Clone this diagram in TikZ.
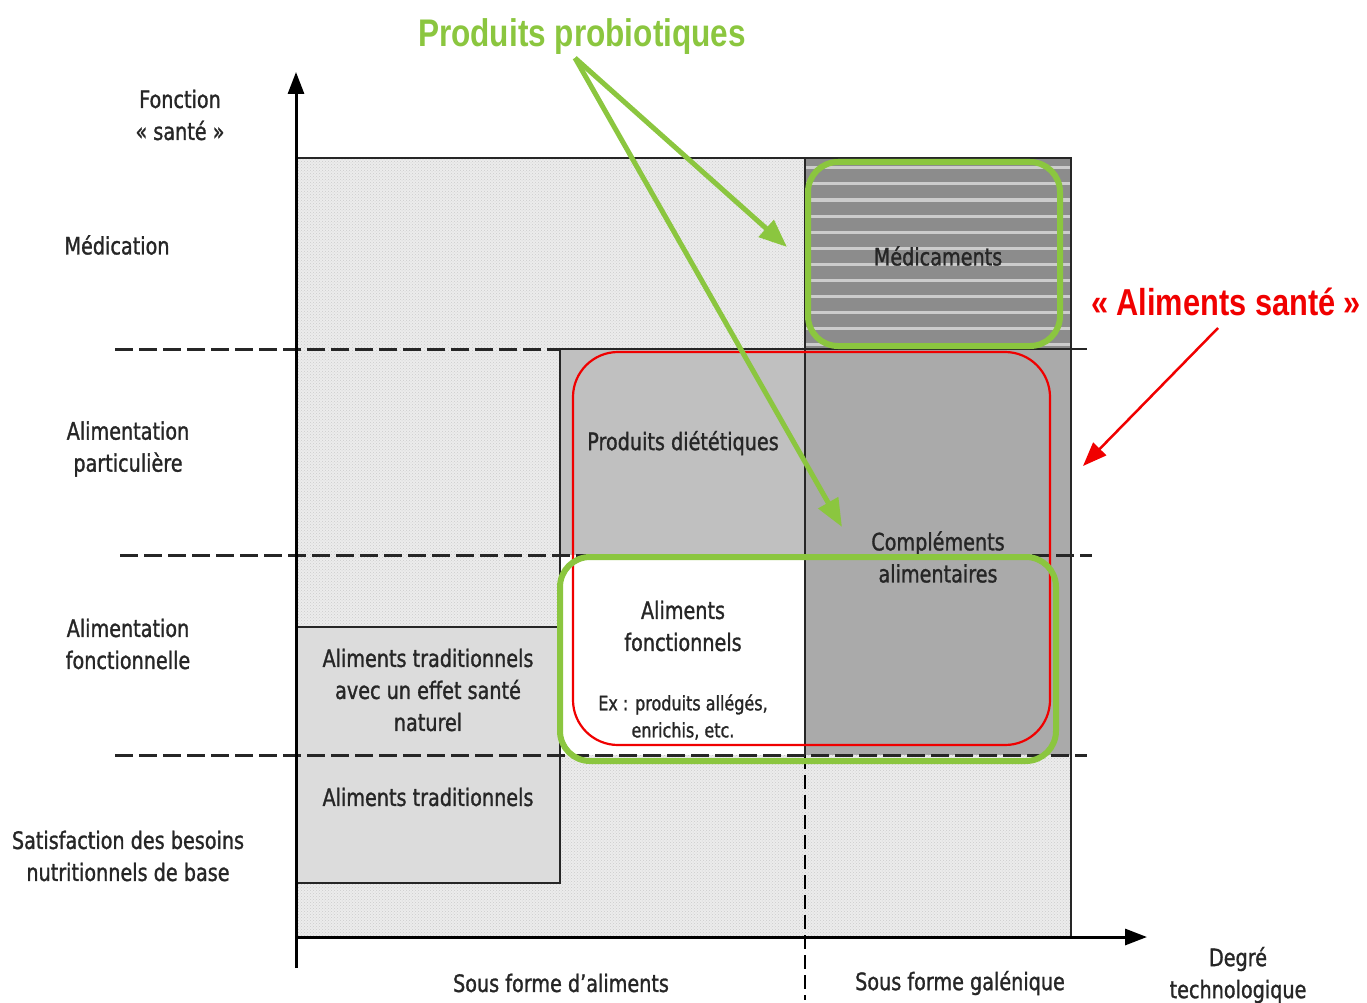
\documentclass[tikz,border=0pt]{standalone}
\usepackage{fontspec}
\setmainfont{DejaVu Sans}[FakeStretch=0.8,FakeBold=1.2]
\newfontfamily\titlefont{Liberation Sans}[FakeStretch=0.82]
\usetikzlibrary{arrows.meta,patterns}
\definecolor{pgreen}{RGB}{139,198,63}
\definecolor{ared}{RGB}{240,0,0}
\definecolor{stip}{RGB}{236,236,236}
\definecolor{lgray}{RGB}{220,220,220}
\definecolor{mgray}{RGB}{192,192,192}
\definecolor{dgray}{RGB}{170,170,170}
\definecolor{sgray}{RGB}{140,140,140}
\begin{document}
\begin{tikzpicture}[x=1pt,y=-1pt,
  lbl/.style={font=\fontsize{24}{32}\selectfont, align=center, inner sep=0pt, text=black!85},
  small/.style={font=\fontsize{20}{27}\selectfont, align=center, inner sep=0pt, text=black!85},
  dashline/.style={line width=3pt, dash pattern=on 18pt off 6pt, black!85},
  edge/.style={line width=2.4pt, black!85},
  axis/.style={line width=3pt, black, -{Triangle[length=22pt,width=16pt]}},
  greenbox/.style={draw=pgreen, line width=6pt, rounded corners=30pt},
  redbox/.style={draw=ared, line width=2.2pt, rounded corners=45pt},
  greenarrow/.style={draw=pgreen, line width=5pt, -{Triangle[length=28pt,width=22pt]}},
  redarrow/.style={draw=ared, line width=2.5pt, -{Triangle[length=24pt,width=18pt]}}]
\useasboundingbox (0,0) rectangle (1367,1003);
% background stipple regions
\fill[stip] (296,158) rectangle (1071,937);
\fill[pattern=crosshatch dots, pattern color=gray!40] (296,158) rectangle (1071,937);
% medicaments stripes
\fill[sgray] (805,158) rectangle (1071,349);
\foreach \yy in {168,184,...,344} \draw[gray!40, line width=3pt] (805,\yy) -- (1071,\yy);
% gray block
\fill[mgray] (560,349) rectangle (805,555);
\fill[dgray] (805,349) rectangle (1071,755);
\fill[white] (560,555) rectangle (805,755);
% traditional boxes
\fill[lgray] (296,627) rectangle (560,883);
\draw[edge] (296,627) -- (560,627) -- (560,883) -- (296,883);
% edges
\draw[edge] (296,158) -- (1071,158) -- (1071,937);
\draw[edge] (560,349) -- (1087,349);
\draw[edge] (560,349) -- (560,755);
\draw[edge] (805,158) -- (805,755);
\draw[line width=1.8pt, dash pattern=on 14pt off 6pt] (805,755) -- (805,1000);
% dashed lines
\draw[dashline] (115,349) -- (560,349);
\draw[dashline] (120,555) -- (1092,555);
\draw[dashline] (115,755) -- (1087,755);
% axes
\coordinate (O) at (296,937);
\coordinate (Ybot) at (296,968);
\coordinate (Ytip) at (296,72);
\coordinate (Xtip) at (1147,937);
\draw[axis] (Ybot) -- (Ytip);
\draw[axis] (O) -- (Xtip);
% left labels
\node[lbl] (fonc) at (180,115) {Fonction\\« santé »};
\node[lbl] (medic) at (117,245) {Médication};
\node[lbl] (alpart) at (128,449) {Alimentation\\particulière};
\node[lbl] (alfonc) at (128,644) {Alimentation\\fonctionnelle};
\node[lbl] (satis) at (128,856) {Satisfaction des besoins\\nutritionnels de base};
% bottom labels
\node[lbl] (sfa) at (561,983) {Sous forme d’aliments};
\node[lbl] (sfg) at (960,983) {Sous forme galénique};
\node[lbl] (degre) at (1238,975) {Degré\\technologique};
% inner labels
\node[lbl] (medts) at (938,256) {Médicaments};
\node[lbl] (prodiet) at (683,443) {Produits diététiques};
\node[lbl] (compl) at (938,557) {Compléments\\alimentaires};
\node[lbl] (alfn) at (683,626) {Aliments\\fonctionnels};
\node[small] (ex) at (683,717) {Ex : produits allégés,\\enrichis, etc.};
\node[lbl] (atre) at (428,690) {Aliments traditionnels\\avec un effet santé\\naturel};
\node[lbl] (atr) at (428,797) {Aliments traditionnels};
% red and green frames
\draw[redbox] (573,352) rectangle (1050,745);
\draw[greenbox] (808,162) rectangle (1060,346);
\draw[greenbox] (560,557) rectangle (1056,761);
% titles
\node[font=\titlefont\bfseries\fontsize{38.5}{40}\selectfont, text=pgreen, inner sep=0pt] (probio) at (582,37) {Produits probiotiques};
\node[font=\titlefont\bfseries\fontsize{37.5}{40}\selectfont, text=ared, inner sep=0pt] (alsante) at (1226,302) {« Aliments santé »};
% arrows
\coordinate (gs) at (575,58);
\coordinate (g1) at (787,247);
\coordinate (g2) at (842,527);
\draw[greenarrow] (gs) -- (g1);
\draw[greenarrow] (gs) -- (g2);
\coordinate (rs) at (1218,328);
\coordinate (r1) at (1083,466);
\draw[redarrow] (rs) -- (r1);
\end{tikzpicture}
\end{document}
